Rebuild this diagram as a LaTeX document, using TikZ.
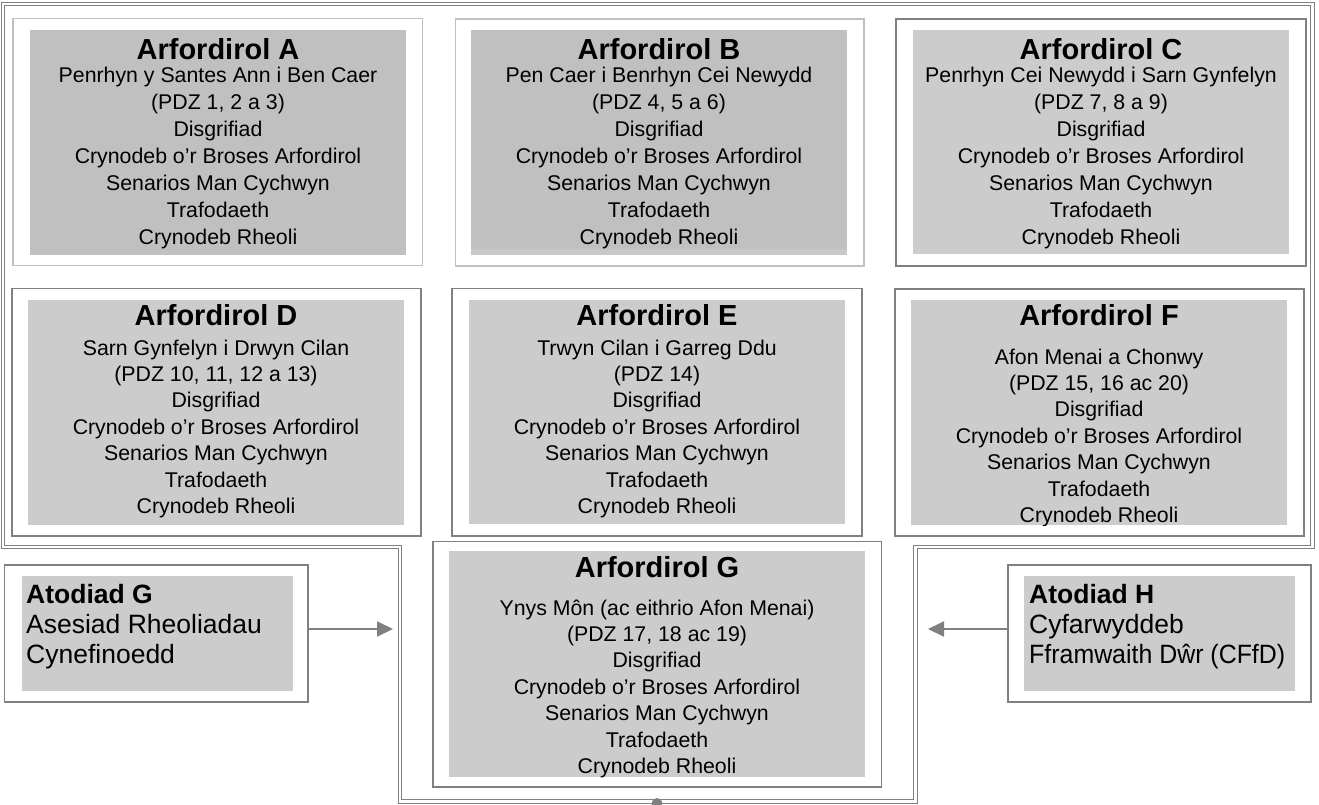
\documentclass[tikz,border=0pt]{standalone}
\usepackage{fontspec}
\usepackage{graphicx}
\setmainfont{Liberation Sans}
\usetikzlibrary{arrows.meta}
\definecolor{fillA}{HTML}{C0C0C0}
\definecolor{fillB}{HTML}{CCCCCC}
\definecolor{fillBand}{HTML}{C8C8C8}
\definecolor{lineDark}{HTML}{808080}
\definecolor{lineLight}{HTML}{C0C0C0}
\newcommand\rbox[6]{\node[#1, anchor=north west, minimum width={(#5-#3)*1pt}, minimum height={(#6-#4)*1pt}] (#2) at (#3,#4) {};}
\newcommand\stdlines{Disgrifiad\\Crynodeb o’r Broses Arfordirol\\Senarios Man Cychwyn\\Trafodaeth\\Crynodeb Rheoli}
\begin{document}
\begin{tikzpicture}[x=1pt,y=-1pt,
  outerdark/.style={draw=lineDark, line width=1.6pt, inner sep=0pt, outer sep=0pt},
  outerlight/.style={draw=lineLight, line width=1.6pt, inner sep=0pt, outer sep=0pt},
  innerA/.style={fill=fillA, inner sep=0pt, outer sep=0pt},
  innerB/.style={fill=fillB, inner sep=0pt, outer sep=0pt},
  titletext/.style={anchor=base, inner sep=0pt, font=\fontsize{29}{33}\selectfont\bfseries},
  bodyA/.style={anchor=base, inner sep=0pt, font=\fontsize{21.3}{27}\selectfont},
  bodyD/.style={anchor=base, inner sep=0pt, font=\fontsize{21.3}{26.4}\selectfont},
  atext/.style={anchor=base west, inner sep=0pt, font=\fontsize{26.5}{30}\selectfont},
  frame/.style={draw=lineDark, double=white, line width=1.2pt, double distance=2.4pt, line join=miter},
  conn/.style={draw=lineDark, line width=2pt, -{Triangle[length=16pt,width=15pt]}}
]
\useasboundingbox (0,0) rectangle (1319,805);
\fill[white] (0,0) rectangle (1319,805);

% outer double frame
\draw[frame] (3,4) -- (1312.5,4) -- (1312.5,547) -- (915.5,547) -- (915.5,801.5) -- (400,801.5) -- (400,547) -- (3,547) -- cycle;
\node[circle, fill=lineDark, inner sep=0pt, minimum size=11pt] (dot) at (657,803.5) {};

% row 1
\rbox{outerlight}{A}{13}{18.5}{422.5}{265.5}
\rbox{innerA}{Ai}{30}{30}{406}{255}
\node[titletext] (At) at (218,60) {Arfordirol A};
\node[bodyA] (Ab) at (218,83) {\begin{tabular}[t]{@{}c@{}}Penrhyn y Santes Ann i Ben Caer\\(PDZ 1, 2 a 3)\\\stdlines\end{tabular}};

\rbox{outerlight}{B}{455.5}{19}{864}{266}
\rbox{innerA}{Bi}{471}{30}{847}{249}
\fill[fillBand] (471,249) rectangle (847,255);
\node[titletext] (Bt) at (659,60) {Arfordirol B};
\node[bodyA] (Bb) at (659,83) {\begin{tabular}[t]{@{}c@{}}Pen Caer i Benrhyn Cei Newydd\\(PDZ 4, 5 a 6)\\\stdlines\end{tabular}};

\rbox{outerdark}{C}{896}{19}{1306}{266}
\rbox{innerB}{Ci}{913}{30}{1289}{254}
\node[titletext] (Ct) at (1101,60) {Arfordirol C};
\node[bodyA] (Cb) at (1101,83) {\begin{tabular}[t]{@{}c@{}}Penrhyn Cei Newydd i Sarn Gynfelyn\\(PDZ 7, 8 a 9)\\\stdlines\end{tabular}};

% row 2
\rbox{outerdark}{D}{12}{288.5}{421}{536}
\rbox{innerB}{Di}{28}{300}{404}{525}
\node[titletext] (Dt) at (216,325) {Arfordirol D};
\node[bodyD] (Db) at (216,355) {\begin{tabular}[t]{@{}c@{}}Sarn Gynfelyn i Drwyn Cilan\\(PDZ 10, 11, 12 a 13)\\\stdlines\end{tabular}};

\rbox{outerdark}{E}{452}{288.5}{862}{536}
\rbox{innerB}{Ei}{469}{300}{845}{524}
\node[titletext] (Et) at (657,325) {Arfordirol E};
\node[bodyD] (Eb) at (657,355) {\begin{tabular}[t]{@{}c@{}}Trwyn Cilan i Garreg Ddu\\(PDZ 14)\\\stdlines\end{tabular}};

\rbox{outerdark}{F}{895}{289}{1304}{536}
\rbox{innerB}{Fi}{911}{300}{1287}{525}
\node[titletext] (Ft) at (1099,325) {Arfordirol F};
\begin{scope}
\clip (911,300) rectangle (1287,525);
\node[bodyD] (Fb) at (1099,364) {\begin{tabular}[t]{@{}c@{}}Afon Menai a Chonwy\\(PDZ 15, 16 ac 20)\\\stdlines\end{tabular}};
\end{scope}

% row 3
\rbox{outerdark}{G}{433}{541.5}{881.5}{787}
\rbox{innerB}{Gi}{449}{551}{865}{777}
\node[titletext] (Gt) at (657,577) {Arfordirol G};
\node[bodyD] (Gb) at (657,615) {\begin{tabular}[t]{@{}c@{}}Ynys Môn (ac eithrio Afon Menai)\\(PDZ 17, 18 ac 19)\\\stdlines\end{tabular}};

\rbox{outerdark}{AG}{4.5}{565}{308}{702}
\rbox{innerB}{AGi}{22}{576}{293}{691}
\node[atext] (AGt) at (26,603) {\begin{tabular}[t]{@{}l@{}}\textbf{Atodiad G}\\Asesiad Rheoliadau\\Cynefinoedd\end{tabular}};

\rbox{outerdark}{AH}{1008}{565}{1311}{702}
\rbox{innerB}{AHi}{1024}{576}{1295}{691}
\node[atext] (AHt) at (1029,603) {\begin{tabular}[t]{@{}l@{}}\textbf{Atodiad H}\\Cyfarwyddeb\\\scalebox{0.94}[1]{Fframwaith Dŵr (CFfD)}\end{tabular}};

% connectors
\coordinate (gEnd) at (393,629);
\coordinate (hEnd) at (928,629);
\draw[conn] (AG.east |- gEnd) -- (gEnd);
\draw[conn] (AH.west |- hEnd) -- (hEnd);
\end{tikzpicture}
\end{document}
